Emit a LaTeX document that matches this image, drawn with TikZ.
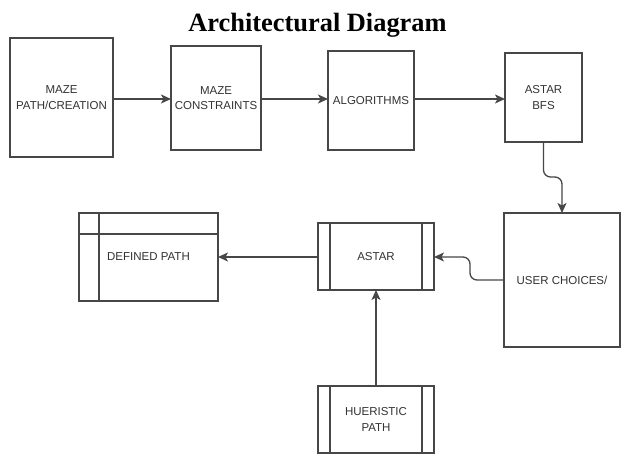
\documentclass[tikz,border=0pt]{standalone}
\usepackage{fontspec}
\setmainfont{Liberation Sans}
\newfontfamily\titlefont{Liberation Serif}
\usetikzlibrary{arrows.meta}
\definecolor{linec}{HTML}{474747}
\definecolor{textc}{HTML}{333333}
\tikzset{
  box/.style={draw=linec, line width=1.2bp, rectangle, inner sep=0pt, outer sep=0pt,
    align=center, text=textc, font=\fontsize{11.5bp}{15.5bp}\selectfont},
  arr/.style={draw=linec, line width=1.3bp, -{Stealth[length=10bp,width=9bp,inset=2.5bp]}},
  inner/.style={draw=linec, line width=1.2bp}
}
\begin{document}
\begin{tikzpicture}[x=1bp,y=-1bp]
\useasboundingbox[fill=white] (0,0) rectangle (621,455);
\node[anchor=base, font=\titlefont\bfseries\fontsize{26.4bp}{30bp}\selectfont] (title) at (317.5,32) {Architectural Diagram};

\node[box, minimum width=103bp, minimum height=119bp] (b1) at (61.5,97.5) {MAZE\\PATH/CREATION};
\node[box, minimum width=90bp, minimum height=104bp] (b2) at (216,98) {MAZE\\CONSTRAINTS};
\node[box, minimum width=86bp, minimum height=99bp] (b3) at (371,100.5) {ALGORITHMS};
\node[box, minimum width=77bp, minimum height=89bp] (b4) at (543.5,97.5) {ASTAR\\BFS};

\node[box, minimum width=116bp, minimum height=134bp] (user) at (562,280) {USER CHOICES/};
\node[box, minimum width=116bp, minimum height=67bp] (astar) at (376,256.5) {ASTAR};
\node[box, minimum width=139bp, minimum height=88bp] (def) at (148.5,257) {DEFINED PATH};
\node[box, minimum width=116bp, minimum height=67bp] (hue) at (376,419.5) {HUERISTIC\\PATH};

% inner lines
\draw[inner] ([xshift=12bp]astar.north west) -- ([xshift=12bp]astar.south west);
\draw[inner] ([xshift=-12bp]astar.north east) -- ([xshift=-12bp]astar.south east);
\draw[inner] ([xshift=12bp]hue.north west) -- ([xshift=12bp]hue.south west);
\draw[inner] ([xshift=-12bp]hue.north east) -- ([xshift=-12bp]hue.south east);
\draw[inner] ([xshift=20bp]def.north west) -- ([xshift=20bp]def.south west);
\draw[inner] ([yshift=-21bp]def.north west) -- ([yshift=-21bp]def.north east);

% connectors
\draw[arr] (b1.east |- 0,99) -- (b2.west |- 0,99);
\draw[arr] (b2.east |- 0,99) -- (b3.west |- 0,99);
\draw[arr] (b3.east |- 0,99) -- (b4.west |- 0,99);
\draw[arr, rounded corners=7bp] (b4.south) -- ++(0,35) -| (user.north);
\draw[arr, rounded corners=7bp] (user.west) -- ++(-34,0) |- (astar.east |- 0,257);
\draw[arr] (astar.west |- 0,257) -- (def.east |- 0,257);
\draw[arr] (hue.north) -- (astar.south);
\end{tikzpicture}
\end{document}
